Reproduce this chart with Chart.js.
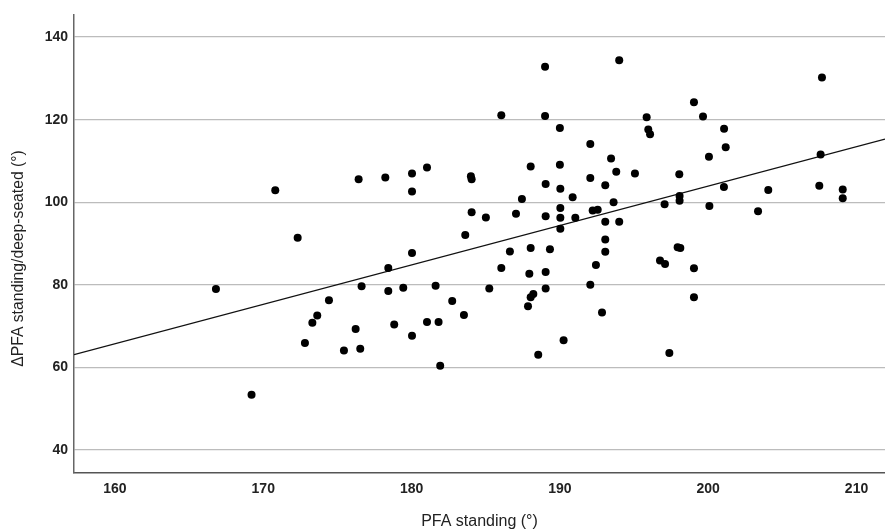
<!DOCTYPE html>
<html>
<head>
<meta charset="utf-8">
<script src="https://cdn.jsdelivr.net/npm/chart.js@4"></script>
<style>
  html, body { margin: 0; padding: 0; background: #fff; }
  #c { display: block; }
</style>
</head>
<body>
<canvas id="c" width="885" height="532"></canvas>
<script>
// PFA standing (°)
const pfaStanding = [
  189.0, 194.0, 186.05, 189.0, 190.0, 192.05, 193.45, 193.8, 190.0, 188.03,
  181.04, 180.03, 178.23, 176.43, 184.0, 184.05, 192.05, 207.67, 199.04, 195.85,
  199.65, 195.96, 196.08, 201.07, 201.18, 200.05, 207.58, 195.06, 198.05, 170.81,
  172.32, 166.81, 174.43, 173.64, 173.31, 180.03, 189.04, 190.03, 187.44, 190.86,
  193.06, 193.62, 184.05, 185.01, 187.04, 189.04, 190.03, 190.03, 191.04, 192.21,
  192.55, 193.06, 194.0, 190.03, 183.62, 180.03, 186.63, 188.03, 189.33, 193.06,
  193.06, 192.43, 178.43, 186.05, 187.94, 189.04, 176.63, 178.43, 179.44, 181.62,
  185.24, 189.04, 192.05, 182.74, 188.21, 188.03, 187.85, 183.53, 192.84, 176.23,
  178.83, 181.04, 181.82, 198.07, 198.07, 197.06, 200.08, 201.06, 204.05, 203.36,
  207.49, 209.07, 209.07, 197.94, 198.12, 196.75, 197.09, 199.04, 199.04, 172.81,
  175.44, 169.21, 176.54, 180.03, 181.93, 188.54, 190.25, 197.38
];
// ΔPFA standing/deep-seated (°)
const deltaPfa = [
  132.8, 134.4, 121.1, 120.9, 118.0, 114.1, 110.6, 107.4, 109.1, 108.65,
  108.4, 107.0, 106.0, 105.6, 106.3, 105.6, 105.9, 130.2, 124.2, 120.6,
  120.8, 117.6, 116.5, 117.8, 113.3, 111.0, 111.55, 107.0, 106.8, 102.9,
  91.4, 79.0, 76.3, 72.6, 70.8, 102.6, 104.4, 103.3, 100.8, 101.2,
  104.1, 100.0, 97.6, 96.3, 97.2, 96.6, 98.6, 96.25, 96.25, 98.0,
  98.2, 95.3, 95.3, 93.6, 92.06, 87.7, 88.1, 88.9, 88.6, 91.0,
  88.0, 84.8, 84.1, 84.1, 82.7, 83.1, 79.65, 78.5, 79.3, 79.8,
  79.1, 79.1, 80.05, 76.1, 77.8, 77.0, 74.85, 72.7, 73.3, 69.3,
  70.4, 71.0, 71.0, 101.5, 100.4, 99.5, 99.1, 103.7, 103.0, 97.8,
  104.0, 103.1, 101.0, 89.1, 88.9, 85.9, 85.05, 84.0, 77.0, 65.9,
  64.1, 53.4, 64.5, 67.65, 60.4, 63.1, 66.6, 63.5
];
// Fit line end points
const fitLineX = [157.24, 211.92];
const fitLineY = [63.1, 115.3];
// Axis ranges and ticks
const xRange = [157.24, 211.92];
const yRange = [34.44, 145.5];
const xTicks = [160, 170, 180, 190, 200, 210];
const yTicks = [40, 60, 80, 100, 120, 140];
const xTitle = 'PFA standing (°)';
const yTitle = 'ΔPFA standing/deep-seated (°)';

const scatterPoints = pfaStanding.map((x, i) => ({ x: x, y: deltaPfa[i] }));
const fitPoints = fitLineX.map((x, i) => ({ x: x, y: fitLineY[i] }));

const FONT = '"Liberation Sans", Arial, sans-serif';

const yTitlePlugin = {
  id: 'yTitlePlugin',
  afterDraw(chart) {
    const ctx = chart.ctx;
    ctx.save();
    ctx.translate(18.5, 258.5);
    ctx.rotate(-Math.PI / 2);
    ctx.font = '15.7px ' + FONT;
    ctx.fillStyle = '#222';
    ctx.textAlign = 'center';
    ctx.textBaseline = 'middle';
    ctx.fillText(yTitle, 0, 0);
    ctx.restore();
  }
};

new Chart(document.getElementById('c'), {
  type: 'scatter',
  data: {
    datasets: [
      {
        label: 'Fit',
        data: fitPoints,
        showLine: true,
        borderColor: '#111',
        borderWidth: 1.4,
        pointRadius: 0,
        fill: false,
        order: 1
      },
      {
        label: 'Data',
        data: scatterPoints,
        backgroundColor: '#000',
        borderWidth: 0,
        pointRadius: 4,
        order: 0
      }
    ]
  },
  options: {
    responsive: false,
    animation: false,
    events: [],
    layout: { autoPadding: false, padding: { top: 13, right: 0, bottom: 0, left: 0 } },
    plugins: {
      legend: { display: false },
      tooltip: { enabled: false },
      title: { display: false }
    },
    scales: {
      x: {
        type: 'linear',
        min: xRange[0],
        max: xRange[1],
        afterBuildTicks: (s) => { s.ticks = xTicks.map(v => ({ value: v })); },
        afterFit: (s) => { s.height = 59; },
        grid: { display: false, drawTicks: false },
        border: { display: true, color: '#555', width: 1.5 },
        ticks: {
          padding: 8,
          maxRotation: 0,
          autoSkip: false,
          color: '#222',
          font: { family: FONT, size: 14, weight: 'bold' }
        },
        title: {
          display: true,
          text: xTitle,
          color: '#222',
          padding: { top: 0, bottom: 1 },
          font: { family: FONT, size: 16 }
        }
      },
      y: {
        type: 'linear',
        min: yRange[0],
        max: yRange[1],
        afterBuildTicks: (s) => { s.ticks = yTicks.map(v => ({ value: v })); },
        afterFit: (s) => { s.width = 74; },
        grid: { display: true, drawTicks: false, color: '#bcbcbc', lineWidth: 1.3 },
        border: { display: true, color: '#666', width: 1.5 },
        ticks: {
          padding: 6,
          autoSkip: false,
          color: '#222',
          font: { family: FONT, size: 14, weight: 'bold' }
        },
        title: { display: false }
      }
    }
  },
  plugins: [yTitlePlugin]
});
</script>
</body>
</html>
